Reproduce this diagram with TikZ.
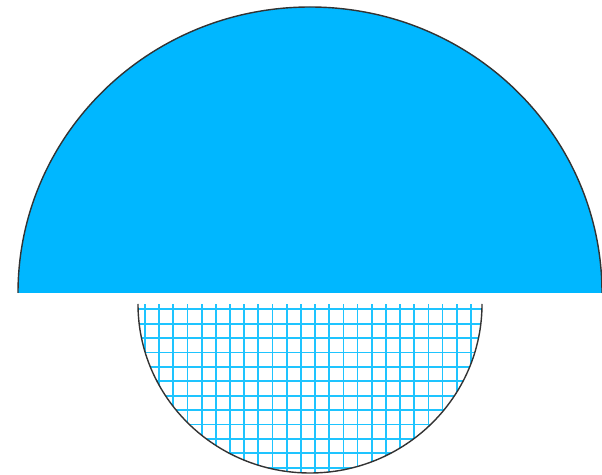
\documentclass[tikz,border=0pt]{standalone}
\usepackage{tikz}
\usetikzlibrary{calc}
\definecolor{skyfill}{RGB}{0,183,255}
\definecolor{skygrid}{RGB}{30,196,255}
\tikzset{rim/.style={draw=black!80,line width=2pt},
  gridline/.style={draw=skygrid,line width=2.5pt}}

\begin{document}
\begin{tikzpicture}[x=0.5mm,y=0.5mm]
\useasboundingbox (0,0) rectangle (602,475);
% upper half, filled
\fill[skyfill] (18,182) arc[start angle=180,end angle=0,x radius=292,y radius=286] -- cycle;
\draw[rim] (18,182) arc[start angle=180,end angle=0,x radius=292,y radius=286];
% lower half, grid
\begin{scope}
\clip (138,171) arc[start angle=180,end angle=360,x radius=172,y radius=169] -- cycle;
\foreach \k in {-10,...,13}
  \draw[gridline] ({286.7+14.17*\k},0) -- ({286.7+14.17*\k},171);
\foreach \k in {0,...,11}
  \draw[gridline] (130,{165.7-14.4*\k}) -- (490,{165.7-14.4*\k});
\end{scope}
\draw[rim] (138,171) arc[start angle=180,end angle=360,x radius=172,y radius=169];
\end{tikzpicture}
\end{document}
